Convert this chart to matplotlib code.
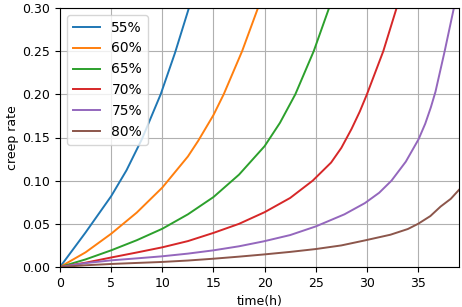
import numpy as np
import matplotlib.pyplot as plt

labels = ['55%', '60%', '65%', '70%', '75%', '80%']

# values
t_55 = [0, 2.5, 5, 6.5, 8, 9.84, 11.24, 12.6, 13.2]
v_55 = [0, 0.04, 0.082, 0.112, 0.148, 0.20, 0.248, 0.30, 0.326]

t_60 = [0, 2.5, 5, 7.5, 10, 12.5, 13.5, 15, 16, 17.8, 19.35, 20]
v_60 = [0, 0.017, 0.0385, 0.063, 0.092, 0.128, 0.146, 0.176, 0.20, 0.25, 0.30, 0.322]

t_65 = [0, 2.5, 5, 7.5, 10, 12.5, 15, 17.5, 20, 21.5, 23, 24.8, 26.3, 26.8]
v_65 = [0, 0.0088, 0.0193, 0.031, 0.0443, 0.061, 0.081, 0.107, 0.14, 0.167, 0.20, 0.25, 0.30, 0.318]

t_70 = [0, 2.5, 5, 7.5, 10, 12.5, 15, 17.5, 20, 22.5, 24.7, 26.5, 27.5, 28.5, 29.3, 30, 31.6, 32.9, 33.4]
v_70 = [0, 0.005, 0.011, 0.0168, 0.0228, 0.030, 0.0395, 0.050, 0.0635, 0.080, 0.10, 0.121, 0.138,
        0.160, 0.180, 0.20, 0.25, 0.30, 0.322]

t_75 = [0, 2.5, 5, 7.5, 9.9, 12.5, 15, 17.5, 19.9, 22.5, 25, 25.6, 27.8, 29.8, 31.2, 32.4,
        33.8, 35.05, 35.7, 36.25, 36.7, 37.6, 38.5, 38.9]
v_75 = [0, 0.0045, 0.0077, 0.010, 0.0123, 0.0155, 0.0193, 0.024, 0.0297, 0.037, 0.047, 0.05,
        0.061, 0.074, 0.086, 0.10, 0.122, 0.148, 0.166, 0.185, 0.203, 0.25, 0.30, 0.323]

t_80 = [0, 2.5, 5, 7.5, 9.9, 12.5, 15, 17.5, 19.9, 22.5, 25, 27.5, 29.8, 32.3, 34.0, 35,
        36.2, 37.2, 38.2, 39]
v_80 = [0, 0.002, 0.0035, 0.0047, 0.0058, 0.0075, 0.0096, 0.012, 0.0145, 0.0175, 0.0208,
        0.025, 0.0308, 0.0374, 0.044, 0.05, 0.059, 0.07, 0.079, 0.0894]

series = [(t_55, v_55), (t_60, v_60), (t_65, v_65), (t_70, v_70), (t_75, v_75), (t_80, v_80)]

plt.rcParams['font.size'] = 9
fig = plt.figure(figsize=(4.62, 3.07), dpi=100)
ax = fig.add_axes([60 / 462, 40 / 307, 399 / 462, 259 / 307])

for (t, v), lab in zip(series, labels):
    ax.plot(t, v, label=lab, linewidth=1.4)

ax.set_xlim(0, 39)
ax.set_ylim(0, 0.30)
ax.set_xticks([0, 5, 10, 15, 20, 25, 30, 35])
ax.set_yticks(np.arange(0, 0.31, 0.05))
ax.set_xlabel('time(h)')
ax.set_ylabel('creep rate', labelpad=2)
ax.grid(True)
ax.legend(loc='upper left', fontsize=10)

fig.savefig('out.png', dpi=100)
